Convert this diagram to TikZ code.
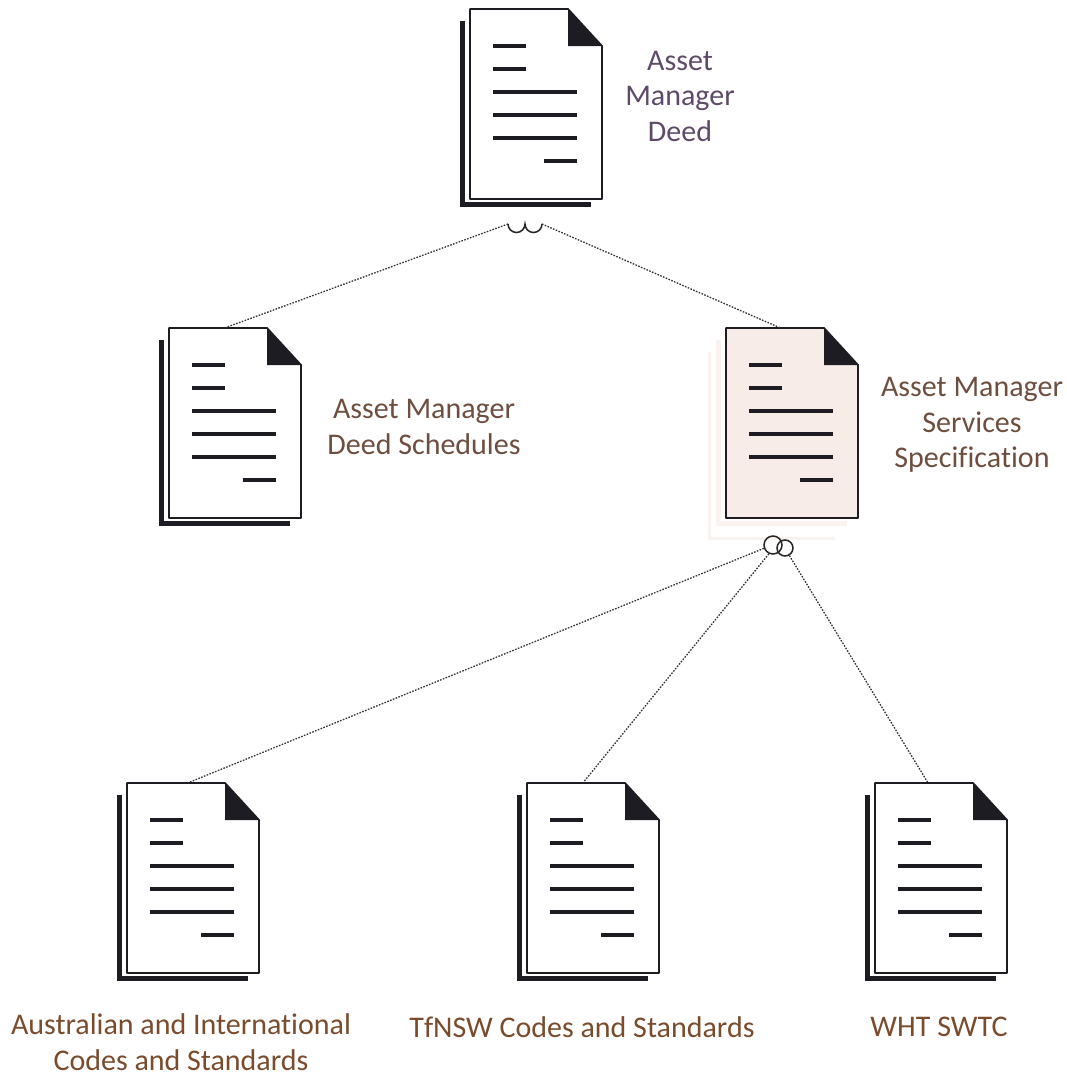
\documentclass[tikz,border=0pt]{standalone}
\usepackage{fontspec}
\setmainfont[Ligatures=NoCommon]{Carlito}
\usetikzlibrary{positioning}
\definecolor{deedtext}{HTML}{5E4A68}
\definecolor{schedtext}{HTML}{6E4E3E}
\definecolor{codetext}{HTML}{7A4B2C}
\definecolor{specfill}{HTML}{F8ECE8}
\definecolor{specback}{HTML}{F9F2EE}
\definecolor{inkdark}{HTML}{1C1C22}

% sheet with a turned corner: name, top left corner, fill, colour of the back sheet
\newcommand{\docsheet}[4]{
\begin{scope}[shift={(#2)}]
\node[sheetbox] (#1) at (66,95) {};
\draw[#4, line width=5pt] (-8,12) -- (-8,195) -- (121,195);
\draw[sheetline, fill=#3] (0,0) -- (98,0) -- (132,37) -- (132,190) -- (0,190) -- cycle;
\fill[inkdark] (98,0) -- (132,37) -- (98,37) -- cycle;
\foreach \ypos/\xstart/\xend/\wd in {37/23/56/3.6, 60/23/56/3.2, 83/23/107/3.8, 106/23/107/3.8, 129/23/107/3.3, 152/74/107/3.6}
  \draw[inkdark, line width=\wd pt] (\xstart,\ypos) -- (\xend,\ypos);
\end{scope}
}

\begin{document}
\begin{tikzpicture}[x=1pt,y=-1pt]

\tikzset{sheetbox/.style = {shape=rectangle,minimum width=132pt,minimum height=190pt,inner sep=0pt}}
\tikzset{sheetline/.style = {draw=inkdark,line width=1.8pt,line join=round}}
\tikzset{link/.style = {dash pattern=on 1.6pt off 1.4pt,line width=1.3pt,draw=black!80}}
\tikzset{ring/.style = {shape=circle,draw=black!85,line width=1.5pt,inner sep=0pt}}
\tikzset{caption/.style = {align=center,inner sep=0pt,font=\fontsize{30}{35.5}\selectfont}}

\useasboundingbox (0,0) rectangle (1067,1076);

% documents
\draw[specback, line width=3pt] (709,352) -- (709,538) -- (835,538);
\docsheet{deed}{470,9}{white}{inkdark}
\docsheet{schedules}{169,328}{white}{inkdark}
\docsheet{services}{726,328}{specfill}{specback}
\docsheet{intl}{127,783}{white}{inkdark}
\docsheet{tfnsw}{527,783}{white}{inkdark}
\docsheet{swtc}{875,783}{white}{inkdark}

% captions
\node[caption, text=deedtext] (deedlabel) at (680,96) {Asset\\Manager\\Deed};
\node[caption, text=schedtext] (scheduleslabel) at (424,427) {Asset Manager\\Deed Schedules};
\node[caption, text=schedtext] (serviceslabel) at (972,425) {Asset Manager\\Services\\Specification};
\node[caption, text=codetext] (intllabel) at (181,1042) {Australian and International\\Codes and Standards};
\node[caption, text=codetext] (tfnswlabel) at (582,1027) {TfNSW Codes and Standards};
\node[caption, text=codetext] (swtclabel) at (939,1027) {WHT SWTC};

% joints
\coordinate (cupa) at (508,224);
\coordinate (cupb) at (525,224);
\coordinate (cupc) at (542,224);
\draw[black!85, line width=1.5pt] (cupa) arc (180:0:8.5) arc (180:0:8.5);
\node[ring, minimum size=18pt] (ringa) at (773,545) {};
\node[ring, minimum size=16pt] (ringb) at (785,548) {};

% edges
\draw[link] (cupa) -- ([xshift=-10pt]schedules.north);
\draw[link] (cupc) -- ([xshift=-12pt]services.north);
\draw[link] (ringa.200) -- ([xshift=-5pt]intl.north);
\draw[link] (ringa.245) -- ([xshift=-10pt]tfnsw.north);
\draw[link] (ringb.300) -- ([xshift=-13pt]swtc.north);

\end{tikzpicture}
\end{document}
